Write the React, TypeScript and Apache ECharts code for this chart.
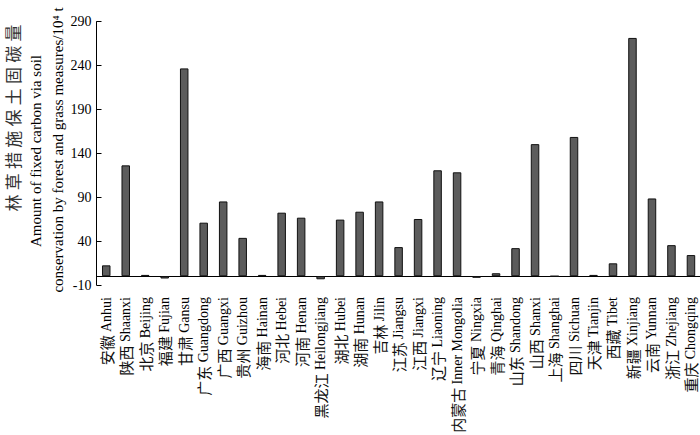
import React, { useEffect, useRef } from "react";
import * as echarts from "echarts";

const provincesCN = ["安徽","陕西","北京","福建","甘肃","广东","广西","贵州","海南","河北","河南","黑龙江","湖北","湖南","吉林","江苏","江西","辽宁","内蒙古","宁夏","青海","山东","山西","上海","四川","天津","西藏","新疆","云南","浙江","重庆"];
const provincesEN = ["Anhui","Shaanxi","Beijing","Fujian","Gansu","Guangdong","Guangxi","Guizhou","Hainan","Hebei","Henan","Heilongjiang","Hubei","Hunan","Jilin","Jiangsu","Jiangxi","Liaoning","Inner Mongolia","Ningxia","Qinghai","Shandong","Shanxi","Shanghai","Sichuan","Tianjin","Tibet","Xinjiang","Yunnan","Zhejiang","Chongqing"];
const carbonValues = [12.4,126.3,1.5,-2.6,236.8,61,85.2,43.7,1.5,72.4,66.7,-3.5,64.5,73.5,85.2,33.2,65.2,120.7,118.4,-1.8,3.4,32,150.5,0,158.7,1.5,14.7,271.5,88.6,35.4,24.1];
const yTicks = [-10,40,90,140,190,240,290];
const yNameCN = "林草措施保土固碳量";
const yNameEN1 = "Amount of fixed carbon via soil";
const yNameEN2 = "conservation by forest and grass measures/10⁴ t";

const SERIF = '"Liberation Serif", "Times New Roman", serif';
const CJK = '"Noto Sans CJK SC", "Noto Serif CJK SC", sans-serif';

export default function App() {
  const ref = useRef<HTMLDivElement>(null);
  useEffect(() => {
    document.body.style.margin = "0";
    const chart = echarts.init(ref.current!, null, { renderer: "svg" });
    const categories = provincesCN.map((c, i) => c + "|" + provincesEN[i]);
    chart.setOption({
      animation: false,
      backgroundColor: "#fff",
      grid: { left: 96.5, top: 21.7, width: 604.2, height: 263.3, outerBoundsMode: "none" },
      xAxis: {
        type: "category",
        data: categories,
        axisLine: { show: true, lineStyle: { color: "#000", width: 1 } },
        axisTick: { show: false },
        axisLabel: {
          interval: 0,
          rotate: 90,
          margin: 12,
          color: "#000",
          formatter: (v: string) => {
            const [c, e] = v.split("|");
            return "{c|" + c + "} {e|" + e + "}";
          },
          rich: {
            c: { fontFamily: CJK, fontSize: 15, color: "#111" },
            e: { fontFamily: SERIF, fontSize: 14, color: "#000" },
          },
        },
      },
      yAxis: {
        type: "value",
        min: -10,
        max: 290,
        splitLine: { show: false },
        axisLine: { show: true, lineStyle: { color: "#000", width: 1 } },
        axisTick: { show: true, inside: true, length: 5, lineStyle: { color: "#000" }, customValues: yTicks },
        axisLabel: { color: "#000", fontFamily: SERIF, fontSize: 14, margin: 5, customValues: yTicks },
      },
      series: [
        {
          type: "bar",
          data: carbonValues,
          barWidth: 8.5,
          itemStyle: { color: "#5c5c5c", borderColor: "#111", borderWidth: 1 },
        },
      ],
      graphic: [
        {
          type: "text",
          x: 12,
          y: 118,
          rotation: Math.PI / 2,
          style: {
            text: yNameCN.split("").join("\u2005"),
            fontFamily: CJK,
            fontSize: 17,
            fill: "#333",
            align: "center",
            verticalAlign: "middle",
          },
        },
        {
          type: "text",
          x: 36,
          y: 151,
          rotation: Math.PI / 2,
          style: {
            text: yNameEN1,
            fontFamily: SERIF,
            fontSize: 15,
            fill: "#000",
            align: "center",
            verticalAlign: "middle",
          },
        },
        {
          type: "text",
          x: 58,
          y: 150,
          rotation: Math.PI / 2,
          style: {
            text: yNameEN2,
            fontFamily: SERIF,
            fontSize: 15,
            fill: "#000",
            align: "center",
            verticalAlign: "middle",
          },
        },
      ],
    });
    return () => chart.dispose();
  }, []);
  return <div ref={ref} style={{ width: 700, height: 435 }} />;
}
